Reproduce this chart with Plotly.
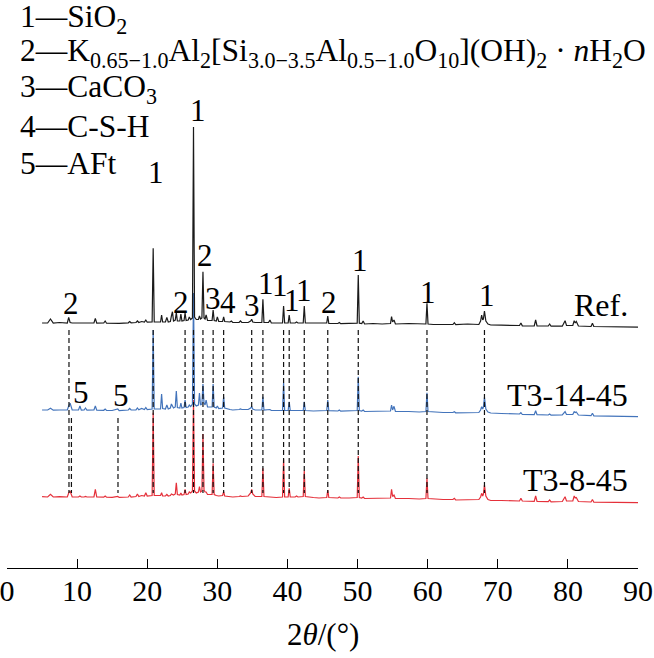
import plotly.graph_objects as go

# shared 2theta grid (deg) and the three patterns (arbitrary intensity)
two_theta = [5.0, 5.8, 6.2, 6.6, 7.5, 8.6, 8.8, 9.0, 9.3, 10.2, 10.4, 10.6, 11.0, 11.2, 11.4,
             12.4, 12.6, 12.8, 13.8, 14.0, 14.2, 15.0, 15.8, 16.0, 17.3, 17.5, 17.7, 18.4, 18.6,
             18.8, 19.2, 19.6, 19.8, 20.0, 20.7, 20.85, 21.0, 21.6, 21.9, 22.05, 22.2, 22.6, 22.8,
             23.0, 23.3, 23.45, 23.6, 23.75, 24.0, 24.15, 24.3, 24.65, 24.8, 24.95, 25.25, 25.4,
             25.55, 25.85, 26.0, 26.2, 26.45, 26.6, 26.75, 27.0, 27.3, 27.45, 27.6, 27.8, 27.95,
             28.1, 28.25, 28.4, 28.6, 29.25, 29.4, 29.55, 29.85, 30.0, 30.2, 30.75, 30.9, 31.05,
             31.8, 32.0, 32.2, 33.1, 33.3, 33.5, 34.4, 34.75, 34.9, 35.05, 35.4, 36.35, 36.5, 36.65,
             37.3, 37.5, 37.7, 38.4, 39.3, 39.45, 39.6, 40.1, 40.25, 40.4, 41.1, 41.3, 41.5, 42.25,
             42.4, 42.55, 43.7, 44.5, 45.6, 45.75, 45.9, 47.2, 47.4, 47.6, 48.8, 49.95, 50.1, 50.25,
             50.6, 50.8, 51.0, 52.2, 53.5, 54.7, 54.85, 55.0, 55.2, 55.4, 57.3, 58.8, 59.75, 59.9,
             60.05, 60.8, 62.2, 63.6, 63.8, 64.0, 65.7, 67.3, 67.55, 67.7, 67.85, 67.95, 68.1, 68.3,
             68.6, 69.0, 70.5, 72.0, 73.1, 73.3, 73.5, 75.2, 75.4, 75.6, 77.2, 77.4, 77.6, 79.2,
             79.45, 79.6, 79.8, 80.7, 80.9, 81.05, 81.2, 81.5, 83.3, 83.5, 83.7, 85.5, 87.5, 90.0]

ref = [10, 10, 14, 10, 10.5, 10, 15.7, 10.5, 10, 10.5, 10.3, 10, 10, 10, 10,
       10, 14.7, 9.8, 10, 12, 9.8, 9.6, 9.8, 9.6, 10.2, 11.5, 10.2, 10.5, 12,
       10.5, 11.5, 11, 13, 10.8, 11, 84.7, 11, 10.5, 11, 18, 11, 11, 15.7,
       11, 11.5, 17, 21.3, 12, 13, 20.3, 12, 12, 19, 12, 12.5, 20,
       12.5, 13, 16, 13.5, 15, 206, 16, 13.5, 13.5, 17, 14, 15, 61.3,
       15, 14, 18, 12.5, 12.5, 23, 12.5, 12, 16, 11.5, 11.5, 16, 11.5,
       11, 12, 10.5, 10.5, 12, 10.5, 10.5, 12, 13.7, 11, 10.5, 10.5, 33.7, 10.5,
       10.5, 13, 10, 10, 10, 27, 10, 10, 18, 10, 10, 11, 10, 10,
       27, 10, 10, 9.5, 10, 17, 9.5, 9.5, 10.5, 9.3, 9.5, 9.8, 58, 9.8,
       9.5, 12, 9, 9.5, 9, 9.5, 16.3, 11, 13, 9, 9.5, 8.8, 9, 29.7,
       9, 8.5, 8.5, 8.5, 10.3, 8.3, 9, 8.5, 12, 18, 13, 14, 22, 12,
       9, 8, 7.8, 7.5, 7.5, 10, 7.2, 7, 13, 7, 7, 9, 6.8, 6.8,
       10, 12.3, 7.5, 7.5, 12.3, 10, 11.5, 7, 6.5, 9.7, 6.5, 6.2, 6, 5.8]

t3_14_45 = [10, 10, 11.7, 9.8, 10, 10, 14, 16.7, 10, 10, 14, 9.8, 10, 12, 9.8,
            10, 14, 9.8, 9.7, 11, 9.6, 9.5, 11, 9.4, 10, 11.5, 10, 10.2, 12,
            10.2, 11.5, 10.5, 12.5, 10.5, 11, 90, 11, 10.5, 11, 26, 11.5, 11, 15,
            11, 12, 16, 14, 12, 13, 29, 12.5, 12, 17, 12, 12.5, 20,
            12.5, 13, 15, 13.5, 16, 127, 16, 14, 15, 27, 15, 16, 36,
            17, 15, 20, 13, 13, 36, 13, 12, 14, 11.5, 12, 23.3, 12,
            10.5, 10, 10, 10.5, 11, 10.5, 10.5, 12, 13.3, 11, 10, 10, 23.3, 10,
            10, 10.5, 9.5, 9.5, 9.5, 37.3, 9.5, 9.5, 18.3, 9.5, 9.5, 10, 9.5, 9.5,
            18.3, 9.5, 9, 9, 9.5, 20, 9.3, 9, 10, 8.8, 8.8, 9.5, 43.3, 9.5,
            9, 10, 8.5, 8.7, 8.5, 9, 15, 10, 13.7, 8.5, 8.5, 8, 8.5, 27.3,
            8.5, 8, 7.5, 7.5, 8.3, 7.2, 7.5, 7.5, 10, 13.3, 11, 13, 22.7, 11,
            8, 7, 6.5, 6.2, 6, 7.3, 5.5, 5.3, 9.3, 5.3, 5, 6, 4.8, 5,
            7, 8.3, 5.5, 5.5, 8.3, 7.5, 8, 5, 4.3, 6.7, 4.2, 4, 3.6, 3.3]

t3_8_45 = [10.3, 10, 12.7, 10, 10.4, 10, 14, 16, 10, 10, 11, 10, 10, 10.5, 10,
           10.2, 17.7, 10, 9.8, 11, 9.8, 9.6, 10.5, 9.6, 10, 12, 10, 10.5, 13,
           10.5, 11.5, 11, 14.3, 11, 11.5, 94.3, 11.5, 11, 11.5, 14.3, 11, 11, 12.5,
           11, 11.5, 13, 12.5, 12, 13, 24.3, 12.5, 12, 14, 12, 12.5, 17.7,
           12.5, 13, 15, 14, 16, 107, 16, 14, 15, 20.3, 15, 16, 73,
           17, 15, 15, 12.5, 12.5, 43.7, 12.5, 11.5, 11, 11, 11.5, 15.3, 11,
           10.5, 10, 10, 10.5, 11, 10.5, 11, 14, 17.7, 13, 10.5, 10.5, 38.7, 10.5,
           10, 10, 9.5, 9.5, 10, 47.7, 10, 10, 18.7, 10, 10, 11, 10, 10.5,
           36.3, 10.5, 9.5, 9, 9.5, 17, 9.5, 9, 10, 9, 9, 9.5, 51, 9.5,
           9, 10, 8.5, 8.5, 8.5, 9, 17.7, 10.5, 12, 8.5, 8.5, 8, 8.5, 28.7,
           8.5, 8, 7.5, 7.5, 8.7, 7, 7, 7.5, 10, 13.7, 11, 13, 22, 11,
           7.5, 6.5, 6.5, 6, 6, 8.7, 6, 5.7, 11, 5.5, 5.3, 7, 5.2, 5.5,
           8, 10.3, 6, 6, 11, 9, 9.5, 5.5, 5, 7.5, 4.8, 4.6, 4.5, 4.3]

sample_names = ["Ref.", "T3-14-45", "T3-8-45"]

# phase marks: position (2theta) and phase number
mark_pos = [8.84, 20.85, 25.4, 26.6, 27.95, 29.4, 30.9, 34.9, 36.5, 39.45, 40.25, 42.4, 45.75,
            50.1, 59.9, 68.1]
aft_pos = [9.19, 15.83]

label_pos = [9.19, 21.2, 24.8, 27.2, 28.2, 29.4, 31.5, 34.95, 36.9, 39.0, 40.6, 42.3, 45.9,
             50.3, 60.05, 68.4, 10.5, 16.2]
label_txt = ["2", "1", "2", "1", "2", "3", "4", "3", "1", "1", "1", "1", "2",
             "1", "1", "1", "5", "5"]
label_h = [265, 396, 266, 458, 313, 270, 266, 263, 285, 283, 268, 278, 266,
           308, 276, 273, 176, 173]

phases = ["1—SiO<sub>2</sub>",
          "2—K<sub>0.65−1.0</sub>Al<sub>2</sub>[Si<sub>3.0−3.5</sub>Al<sub>0.5−1.0</sub>"
          "O<sub>10</sub>](OH)<sub>2</sub> · <i>n</i>H<sub>2</sub>O",
          "3—CaCO<sub>3</sub>",
          "4—C-S-H",
          "5—AFt"]

FONT = "Liberation Serif, Times New Roman, serif"
offsets = [235, 148, 61]
colors = ["#1a1a1a", "#4374bb", "#e5303a"]

fig = go.Figure()

for ys, off, col, name in reversed(list(zip([ref, t3_14_45, t3_8_45], offsets, colors, sample_names))):
    fig.add_trace(go.Scatter(x=two_theta, y=[v + off for v in ys], mode="lines", name=name,
                             line=dict(color=col, width=1.2)))

# dashed guide lines, drawn over the patterns
dx, dy = [], []
for p in mark_pos:
    dx += [p, p, None]
    dy += [offsets[0] + 3, offsets[2] + 14, None]
for p in aft_pos:
    dx += [p, p, None]
    dy += [offsets[1] + 2, offsets[2] + 14, None]
fig.add_trace(go.Scatter(x=dx, y=dy, mode="lines",
                         line=dict(color="#111111", width=1.2, dash="5px,3px"),
                         hoverinfo="skip"))

ann = []
for x, t, h in zip(label_pos, label_txt, label_h):
    ann.append(dict(x=x, y=h, text=t, showarrow=False, xanchor="center", yanchor="middle",
                    font=dict(family=FONT, size=31, color="black")))
for name, yy in zip(sample_names, [263, 173, 88]):
    ann.append(dict(x=88.8, y=yy, text=name, showarrow=False, xanchor="right", yanchor="middle",
                    font=dict(family=FONT, size=32, color="black")))
for i, t in enumerate(phases):
    ann.append(dict(xref="paper", x=0.017, y=[549, 515, 479, 442, 405][i], text=t,
                    showarrow=False, xanchor="left", yanchor="middle",
                    font=dict(family=FONT, size=31.5, color="black")))
ann.append(dict(x=45, yref="paper", y=-66 / 568, text="2<i>θ</i>/(°)", showarrow=False,
                xanchor="center", yanchor="middle",
                font=dict(family=FONT, size=31, color="black")))

fig.update_layout(
    width=654, height=658,
    margin=dict(l=7, r=16, t=0, b=90, autoexpand=False),
    paper_bgcolor="white", plot_bgcolor="white",
    showlegend=False,
    annotations=ann,
    xaxis=dict(range=[0, 90], dtick=10, ticks="inside", ticklen=9, tickwidth=1,
               tickcolor="black", showline=True, linecolor="black", linewidth=1,
               showgrid=False, zeroline=False, ticklabelstandoff=-4, automargin=False,
               ticklabeloverflow="allow",
               tickfont=dict(family=FONT, size=30, color="black")),
    yaxis=dict(range=[0, 568], visible=False, showgrid=False, zeroline=False,
               automargin=False),
)

fig.write_html("out.html", config={"displayModeBar": False},
               post_script="document.body.style.margin='0';")
